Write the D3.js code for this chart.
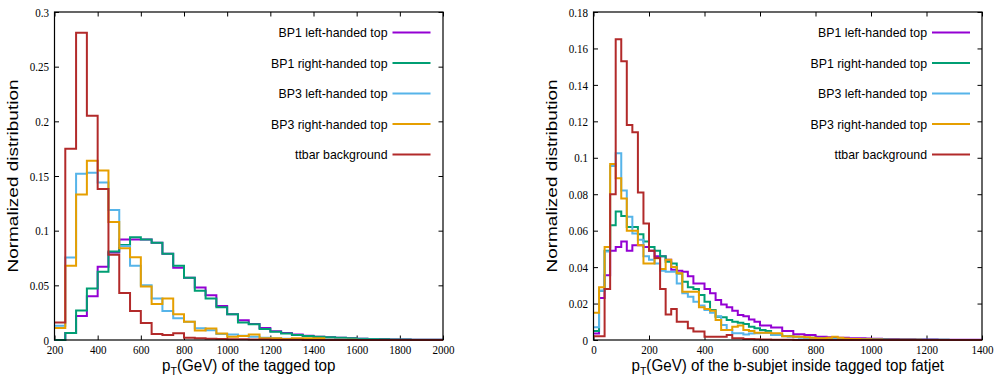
<!DOCTYPE html>
<html>
<head>
<meta charset="utf-8">
<script src="https://cdnjs.cloudflare.com/ajax/libs/d3/7.8.5/d3.min.js"></script>
<style>
body { margin: 0; background: #fff; }
.tick line { stroke: #000; stroke-width: 1; }
.ticklbl { font-family: "Liberation Serif", "DejaVu Serif", serif; font-size: 13px; fill: #000; }
.title { font-family: "Liberation Sans", Arial, sans-serif; fill: #000; }
.legend { font-family: "Liberation Sans", Arial, sans-serif; font-size: 13px; fill: #000; }
.hist { fill: none; stroke-width: 2; stroke-linejoin: miter; }
</style>
</head>
<body>
<svg id="myGraph" width="996" height="376"></svg>
<script>
// series names and colours (same order as the legend)
var seriesNames = ["BP1 left-handed top", "BP1 right-handed top", "BP3 left-handed top", "BP3 right-handed top", "ttbar background"];
var seriesColors = ["#9400d3", "#009e73", "#56b4e9", "#e69f00", "#b22a2a"];

// left panel: pT of the tagged top, bins of 50 GeV from 200 to 2000
var topBinStart = 200, topBinWidth = 50;
var topBP1L = [0.0,0.0065,0.022,0.040,0.067,0.080,0.092,0.092,0.092,0.089, 0.079,0.066,0.057,0.048,0.041,0.031,0.0235,0.018,0.0146,0.011, 0.008,0.0065,0.005,0.004,0.003,0.0025,0.002,0.0015,0.0012,0.0009, 0.0007,0.0005,0.0004,0.0003,0.0002,0.0002];
var topBP1R = [0.0,0.0065,0.027,0.047,0.0625,0.081,0.087,0.094,0.092,0.089, 0.079,0.068,0.057,0.045,0.038,0.030,0.0235,0.016,0.0145,0.010, 0.0076,0.006,0.0046,0.0037,0.003,0.0025,0.002,0.0016,0.0012,0.0009, 0.0007,0.0005,0.0004,0.0003,0.0002,0.0002];
var topBP3L = [0.013,0.0755,0.152,0.153,0.144,0.119,0.086,0.068,0.050,0.038, 0.0265,0.020,0.0168,0.0107,0.009,0.0055,0.005,0.004,0.003,0.002, 0.0015,0.0012,0.001,0.0008,0.0006,0.0005,0.0004,0.0003,0.0002,0.0002, 0.0001,0.0001,0.0001,0.0001,0,0];
var topBP3R = [0.011,0.068,0.133,0.164,0.155,0.108,0.084,0.0756,0.049,0.033, 0.038,0.0235,0.0168,0.0088,0.0105,0.006,0.003,0.0037,0.005,0.0015, 0.0015,0.001,0.0015,0.0015,0.0015,0.0003,0.0002,0.0002,0.0001,0.0001, 0.0001,0,0,0,0,0];
var topTTbar = [0.016,0.175,0.281,0.205,0.138,0.078,0.043,0.0265,0.0155,0.0055, 0.0045,0.0062,0.002,0.0015,0.0012,0.001,0.0008,0.0006,0.0005,0.0004, 0.0003,0.0002,0.0002,0.0001,0.0001,0,0,0,0,0, 0,0,0,0,0,0];
var topXTicks = [200,400,600,800,1000,1200,1400,1600,1800,2000];
var topYTicks = [0,0.05,0.1,0.15,0.2,0.25,0.3];

// right panel: pT of the b-subjet, bins of 20 GeV from 0 to 1400
var bBinStart = 0, bBinWidth = 20;
var bBP1L = [0.0035,0.023,0.0355,0.049,0.051,0.054,0.049,0.052,0.052,0.051, 0.049,0.046,0.046,0.044,0.0385,0.038,0.0375,0.035,0.031,0.031, 0.028,0.0256,0.022,0.0195,0.018,0.016,0.0137,0.013,0.0113,0.010, 0.0079,0.0079,0.0068,0.0068,0.005,0.005,0.0031,0.0031,0.0027,0.0027, 0.0018,0.0018,0.0015,0.0014,0.0012,0.0012,0.001,0.001,0.0009,0.0008, 0.0007,0.0007,0.0006,0.0005,0.0005,0.0004,0.0004,0.0004,0.0003,0.0003, 0.0003,0.0003,0.0002,0.0002,0.0002,0.0002,0.0002,0.0001,0.0001,0.0001];
var bBP1R = [0.005,0.027,0.049,0.063,0.0705,0.068,0.062,0.062,0.058,0.054, 0.051,0.049,0.046,0.043,0.042,0.0365,0.032,0.029,0.028,0.0247, 0.021,0.0165,0.0128,0.0125,0.011,0.010,0.0095,0.0088,0.0073,0.0064, 0.0055,0.005,0.003,0.003,0.0022,0.0022,0.0018,0.0016,0.0013,0.0012, 0.001,0.0009,0.0008,0.0007,0.0007,0.0006,0.0005,0.0005,0.0004,0.0004, 0.0003,0.0003,0.0003,0.0002,0.0002,0.0002,0.0002,0.0001,0.0001,0.0001, 0.0001,0.0001,0.0001,0.0001,0,0,0,0,0,0];
var bBP3L = [0.007,0.027,0.0485,0.0955,0.1025,0.082,0.0677,0.0585,0.055,0.046, 0.044,0.042,0.038,0.0375,0.0375,0.031,0.0256,0.0238,0.021,0.019, 0.0165,0.015,0.013,0.0082,0.0055,0.0037,0.0037,0.003,0.0035,0.0037, 0.004,0.004,0.0027,0.0027,0.002,0.0018,0.0015,0.0013,0.0011,0.001, 0.0009,0.0008,0.0007,0.0006,0.0005,0.0005,0.0004,0.0004,0.0003,0.0003, 0.0002,0.0002,0.0002,0.0002,0.0001,0.0001,0.0001,0.0001,0.0001,0, 0,0,0,0,0,0,0,0,0,0];
var bBP3R = [0.015,0.029,0.051,0.0966,0.0887,0.0777,0.060,0.060,0.052,0.042, 0.042,0.0448,0.039,0.044,0.040,0.0366,0.0265,0.0265,0.0265,0.018, 0.017,0.016,0.011,0.0055,0.0055,0.0073,0.008,0.0055,0.005,0.004, 0.004,0.004,0.0037,0.0037,0.002,0.002,0.0018,0.0018,0.0015,0.0012, 0.001,0.001,0.0012,0.0018,0.0012,0.0008,0.0006,0.0005,0.0004,0.0004, 0.0003,0.0003,0.0002,0.0002,0.0002,0.0001,0.0001,0.0001,0.0001,0, 0,0,0,0,0,0,0,0,0,0];
var bTTbar = [0.002,0.002,0.028,0.080,0.165,0.153,0.118,0.114,0.081,0.064, 0.049,0.045,0.028,0.014,0.017,0.010,0.010,0.0065,0.0046,0.0046, 0.0018,0.0018,0.0018,0.0018,0.0027,0.001,0.001,0.0005,0.0005,0.0004, 0.0003,0.0003,0.0002,0.0002,0.0001,0.0001,0,0,0,0, 0,0,0,0,0,0,0,0,0,0, 0,0,0,0,0,0,0,0,0,0, 0,0,0,0,0,0,0,0,0,0];
var bXTicks = [0,200,400,600,800,1000,1200,1400];
var bYTicks = [0,0.02,0.04,0.06,0.08,0.1,0.12,0.14,0.16,0.18];

var svg = d3.select("#myGraph");
var fmt = d3.format("~g");

// draws one panel
function drawPanel(p) {
	var x = d3.scaleLinear().domain(p.xDomain).range([p.left, p.right]);
	var y = d3.scaleLinear().domain(p.yDomain).range([340, 12]);
	var g = svg.append("g");

	// inward ticks on all four sides (gnuplot style)
	g.append("g").attr("transform", "translate(0,340)")
		.call(d3.axisBottom(x).tickValues(p.xTicks).tickSizeInner(-4.5).tickSizeOuter(0).tickPadding(4.5).tickFormat(fmt))
		.call(function(a){ a.select(".domain").remove(); a.selectAll("text").attr("class", "ticklbl").attr("font-size", null).attr("font-family", null).attr("transform", "scale(0.85,1)"); });
	g.append("g").attr("transform", "translate(0,12)")
		.call(d3.axisTop(x).tickValues(p.xTicks).tickSizeInner(-4.5).tickSizeOuter(0).tickFormat(""))
		.call(function(a){ a.select(".domain").remove(); });
	g.append("g").attr("transform", "translate(" + p.left + ",0)")
		.call(d3.axisLeft(y).tickValues(p.yTicks).tickSizeInner(-4.5).tickSizeOuter(0).tickPadding(6.5).tickFormat(fmt))
		.call(function(a){ a.select(".domain").remove(); a.selectAll("text").attr("class", "ticklbl").attr("font-size", null).attr("font-family", null).attr("transform", "scale(0.85,1)"); });
	g.append("g").attr("transform", "translate(" + p.right + ",0)")
		.call(d3.axisRight(y).tickValues(p.yTicks).tickSizeInner(-4.5).tickSizeOuter(0).tickFormat(""))
		.call(function(a){ a.select(".domain").remove(); });

	// histograms as steps, ttbar drawn last
	var line = d3.line().curve(d3.curveStepAfter)
		.x(function(d){ return x(d[0]); })
		.y(function(d){ return y(d[1]); });
	p.series.forEach(function(vals, k) {
		var pts = vals.map(function(v, i){ return [p.binStart + i * p.binWidth, v]; });
		pts.push([p.binStart + vals.length * p.binWidth, vals[vals.length - 1]]);
		g.append("path").attr("class", "hist")
			.attr("stroke", seriesColors[k])
			.attr("d", line(pts));
	});

	// frame
	g.append("rect")
		.attr("x", p.left).attr("y", 12)
		.attr("width", p.right - p.left).attr("height", 328)
		.attr("fill", "none").attr("stroke", "#000").attr("stroke-width", 1.2);

	// legend
	seriesNames.forEach(function(name, k) {
		var ly = 32.5 + k * 30.5;
		g.append("text").attr("class", "legend")
			.attr("text-anchor", "end")
			.attr("transform", "translate(" + p.legendX + "," + (ly + 4.5) + ") scale(0.95,1)")
			.text(name);
		g.append("line")
			.attr("x1", p.legendX + 5).attr("x2", p.legendX + 43)
			.attr("y1", ly).attr("y2", ly)
			.attr("stroke", seriesColors[k]).attr("stroke-width", 2);
	});

	// y title
	g.append("text").attr("class", "title")
		.attr("font-size", 19)
		.attr("text-anchor", "middle")
		.attr("transform", "translate(" + (p.left - 37) + ",176) scale(0.8,1) rotate(-90)")
		.text("Normalized distribution");

	// x title with subscript T
	var xt = g.append("text").attr("class", "title")
		.attr("font-size", 16.5)
		.attr("text-anchor", "middle")
		.attr("transform", "translate(" + ((p.left + p.right) / 2) + ",370.5) scale(0.92,1)");
	xt.append("tspan").text("p");
	xt.append("tspan").attr("font-size", 11.5).attr("dy", 4).text("T");
	xt.append("tspan").attr("dy", -4).text(p.xTitle);
}

drawPanel({
	left: 54.5, right: 443, xDomain: [200, 2000], yDomain: [0, 0.3],
	xTicks: topXTicks, yTicks: topYTicks,
	binStart: topBinStart, binWidth: topBinWidth,
	series: [topBP1L, topBP1R, topBP3L, topBP3R, topTTbar],
	legendX: 387.5, xTitle: "(GeV) of the tagged top"
});
drawPanel({
	left: 593.5, right: 982, xDomain: [0, 1400], yDomain: [0, 0.18],
	xTicks: bXTicks, yTicks: bYTicks,
	binStart: bBinStart, binWidth: bBinWidth,
	series: [bBP1L, bBP1R, bBP3L, bBP3R, bTTbar],
	legendX: 927, xTitle: "(GeV) of the b-subjet inside tagged top fatjet"
});
</script>
</body>
</html>
